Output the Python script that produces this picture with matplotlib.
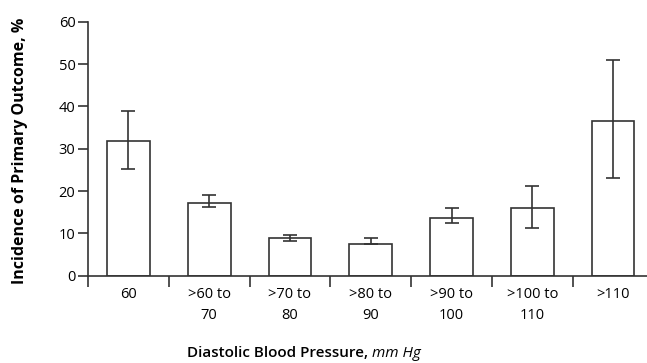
import numpy as np
import matplotlib.pyplot as plt

# 各舒张压分组的主要结局发生率（%）及误差范围
categories = ['60', '>60 to\n70', '>70 to\n80', '>80 to\n90', '>90 to\n100', '>100 to\n110', '>110']
incidence = [31.9, 17.2, 8.9, 7.6, 13.6, 16.0, 36.6]
err_low = [25.2, 16.2, 8.3, 7.6, 12.5, 11.3, 23.2]
err_high = [39.0, 19.0, 9.6, 9.0, 16.0, 21.3, 51.0]

plt.rcParams['font.family'] = ['Open Sans', 'DejaVu Sans']
line_color = '#333333'

fig = plt.figure(figsize=(6.47, 3.63), dpi=100)
ax = fig.add_axes([0.136, 0.2405, 0.864, 0.6995])

x = np.arange(len(categories))
y = np.array(incidence)
yerr = [y - np.array(err_low), np.array(err_high) - y]
ax.bar(x, y, width=0.53, color='white', edgecolor=line_color, linewidth=1.2, zorder=2)
ax.errorbar(x, y, yerr=yerr, fmt='none', ecolor=line_color, elinewidth=1.2,
            capsize=5, capthick=1.2, zorder=3)

ax.set_xlim(-0.5, 6.42)
ax.set_ylim(0, 60)
ax.set_yticks(range(0, 61, 10))
ax.tick_params(axis='y', direction='out', length=7, width=1.2, color=line_color,
               labelsize=10.5, pad=2)

# 分组边界处画刻度，标签放在分组中间
ax.set_xticks(np.arange(-0.5, 6.5, 1.0))
ax.set_xticklabels([])
ax.set_xticks(x, minor=True)
ax.set_xticklabels(categories, minor=True, fontsize=10.5, linespacing=1.6)
ax.tick_params(axis='x', which='major', direction='out', length=8, width=1.2, color=line_color)
ax.tick_params(axis='x', which='minor', length=0, pad=8)

for side in ['top', 'right']:
    ax.spines[side].set_visible(False)
for side in ['left', 'bottom']:
    ax.spines[side].set_linewidth(1.2)
    ax.spines[side].set_color(line_color)

ax.set_ylabel('Incidence of Primary Outcome, %', fontsize=11.5, fontweight='bold')
ax.yaxis.set_label_coords(-0.108, 0.49)

fig.text(0.575, 0.0165, 'Diastolic Blood Pressure, ', fontsize=11, fontweight='semibold',
         ha='right', va='baseline')
fig.text(0.575, 0.0165, 'mm Hg', fontsize=11, fontstyle='italic', ha='left', va='baseline')

plt.savefig('out.png', dpi=100)
